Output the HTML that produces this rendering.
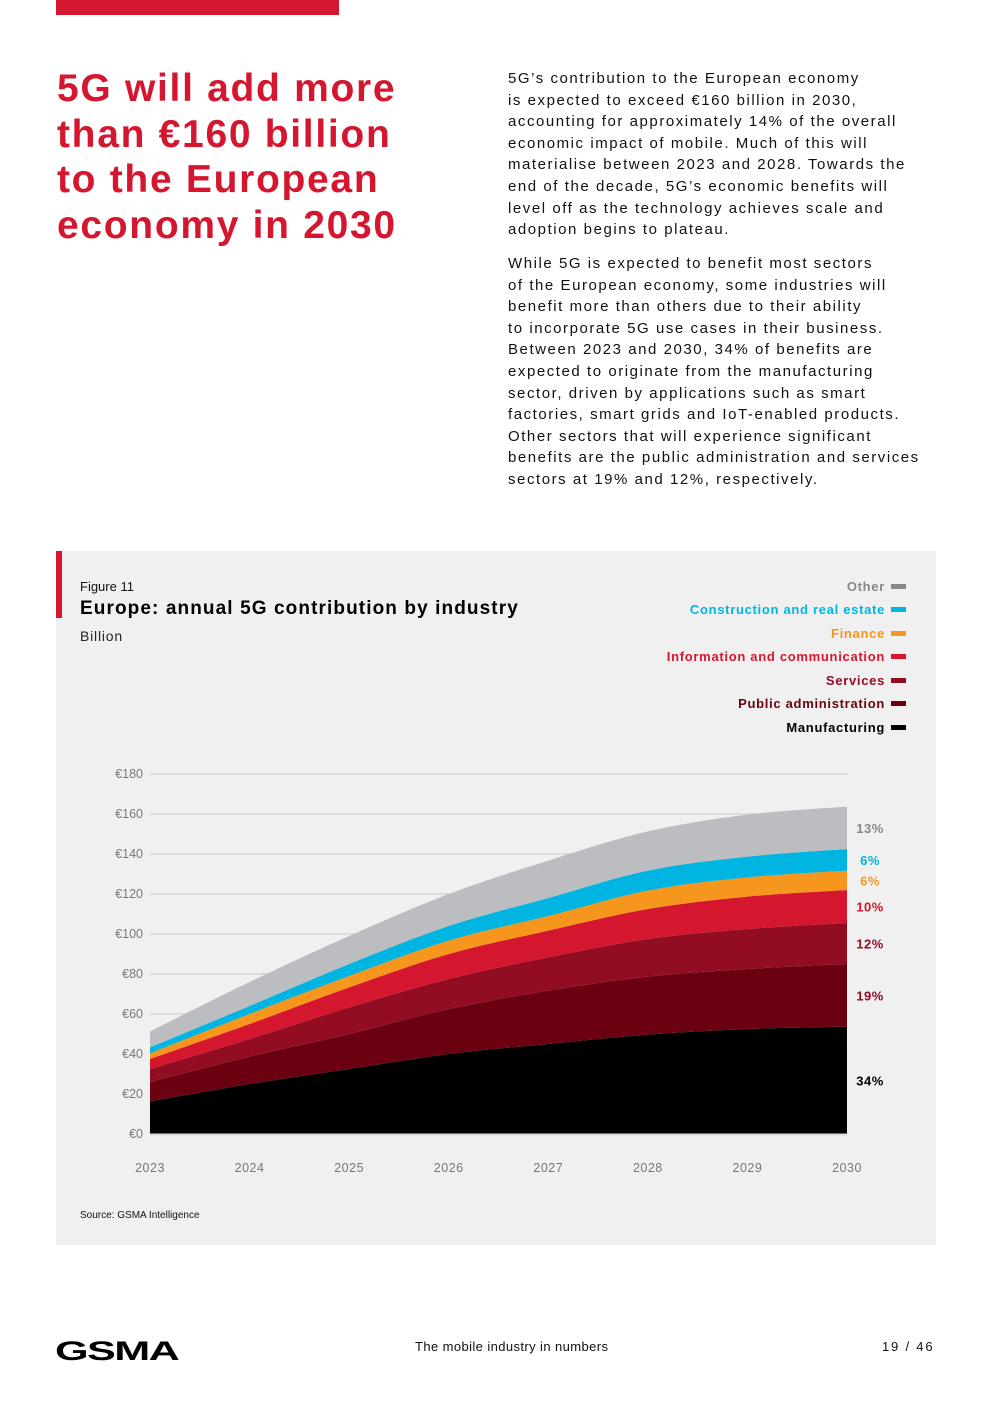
<!DOCTYPE html>
<html><head><meta charset="utf-8"><style>
body{margin:0;width:992px;height:1403px;background:#fff;position:relative;font-family:"Liberation Sans",sans-serif;overflow:hidden}
.abs{position:absolute}
#title{left:57px;top:66px;color:#d5162f;font-weight:bold;font-size:39px;line-height:45.5px;letter-spacing:1.7px;margin:0}
.body{left:508px;width:440px;font-size:15px;line-height:21.6px;letter-spacing:1.55px;color:#111;margin:0}
.leg{position:absolute;right:30px;font-size:13px;font-weight:bold;letter-spacing:0.7px;white-space:nowrap}
.leg span{display:inline-block;width:15px;height:5px;margin-left:6px;vertical-align:2px}
</style></head><body>
<div class="abs" style="left:56px;top:0;width:283px;height:15px;background:#d5162f"></div>
<h1 id="title" class="abs">5G will add more<br>than €160 billion<br>to the European<br>economy in 2030</h1>
<p class="abs body" style="top:68px">5G’s contribution to the European economy<br>is expected to exceed €160 billion in 2030,<br>accounting for approximately 14% of the overall<br>economic impact of mobile. Much of this will<br>materialise between 2023 and 2028. Towards the<br>end of the decade, 5G’s economic benefits will<br>level off as the technology achieves scale and<br>adoption begins to plateau.</p>
<p class="abs body" style="top:253px">While 5G is expected to benefit most sectors<br>of the European economy, some industries will<br>benefit more than others due to their ability<br>to incorporate 5G use cases in their business.<br>Between 2023 and 2030, 34% of benefits are<br>expected to originate from the manufacturing<br>sector, driven by applications such as smart<br>factories, smart grids and IoT-enabled products.<br>Other sectors that will experience significant<br>benefits are the public administration and services<br>sectors at 19% and 12%, respectively.</p>

<div class="abs" style="left:56px;top:551px;width:880px;height:694px;background:#f0f0f0">
<div class="abs" style="left:0;top:0;width:6px;height:67px;background:#d5162f"></div>
<div class="abs" style="left:24px;top:28px;font-size:13px;color:#111">Figure 11</div>
<div class="abs" style="left:24px;top:47px;font-size:19px;font-weight:bold;color:#000;letter-spacing:1.1px">Europe: annual 5G contribution by industry</div>
<div class="abs" style="left:24px;top:77px;font-size:14px;color:#222;letter-spacing:0.8px">Billion</div>
<div class="leg" style="top:28px;color:#888">Other<span style="background:#888"></span></div>
<div class="leg" style="top:51px;color:#00b5e2">Construction and real estate<span style="background:#00b5e2"></span></div>
<div class="leg" style="top:75px;color:#f7961d">Finance<span style="background:#f7961d"></span></div>
<div class="leg" style="top:98px;color:#d5162f">Information and communication<span style="background:#d5162f"></span></div>
<div class="leg" style="top:122px;color:#920c22">Services<span style="background:#920c22"></span></div>
<div class="leg" style="top:145px;color:#6b0011">Public administration<span style="background:#6b0011"></span></div>
<div class="leg" style="top:169px;color:#000">Manufacturing<span style="background:#000"></span></div>
<div class="abs" style="left:24px;top:659px;font-size:10px;color:#111">Source: GSMA Intelligence</div>
</div>
<svg class="abs" id="chart" style="left:0;top:0" width="992" height="1403"></svg>

<div class="abs" style="left:55px;top:1336px;font-size:27px;font-weight:900;letter-spacing:-1px;transform:scaleX(1.6);transform-origin:left;color:#000">GSMA</div>
<div class="abs" style="left:415px;top:1339px;font-size:13px;color:#111;letter-spacing:0.4px">The mobile industry in numbers</div>
<div class="abs" style="left:882px;top:1339px;font-size:13px;color:#111;letter-spacing:1.8px">19 / 46</div>

<script>
const years=[2023,2024,2025,2026,2027,2028,2029,2030];
const yTicks=[0,20,40,60,80,100,120,140,160,180];
const seriesNames=["Manufacturing","Public administration","Services","Information and communication","Finance","Construction and real estate","Other"];
const manufacturing=[16.3,25,32.5,40,45,49.7,52.5,53.7];
const publicAdmin=[9.7,13.7,17.5,22.5,26.7,29,30,31.3];
const services=[6.5,8.8,13.3,15,16.6,18.8,20,20.5];
const infoComm=[5,7.5,10,12.5,13.4,15,16.2,16.5];
const finance=[2.8,5,5.7,6.7,7.3,9.2,9.6,9.7];
const construction=[3,4,6,7.3,9,10,10.4,10.8];
const other=[8,12,14,16,18.7,19.6,21,21.2];
const shareLabels=["34%","19%","12%","10%","6%","6%","13%"];
const colors=["#000","#6b0011","#920c22","#d5162f","#f7961d","#00b5e2","#bcbdc0"];
const labelColors=["#000","#920c22","#920c22","#d5162f","#f7961d","#00b5e2","#888"];
const series=[manufacturing,publicAdmin,services,infoComm,finance,construction,other];
const svg=document.getElementById('chart');const NS="http://www.w3.org/2000/svg";
const X=y=>150+(y-2023)*(847-150)/7;
const Y=v=>1134-v*2;
function mk(t,a){const e=document.createElementNS(NS,t);for(const k in a)e.setAttribute(k,a[k]);svg.appendChild(e);return e;}
yTicks.forEach(t=>{
 const l=mk('line',{x1:150,x2:847,y1:Y(t),y2:Y(t),stroke:'#c8c8c8','stroke-width':1});
 
 
 const tx=mk('text',{x:143,y:Y(t)+4,'text-anchor':'end','font-size':12.5,fill:'#777','font-family':'Liberation Sans'});tx.textContent='€'+t;
 
 
});
years.forEach(y=>{const tx=mk('text',{x:X(y),y:1172,'text-anchor':'middle','font-size':12.5,'letter-spacing':0.5,fill:'#777','font-family':'Liberation Sans'});tx.textContent=y;
 
 });
function curve(pts){let d='';for(let i=0;i<pts.length-1;i++){const p0=pts[Math.max(0,i-1)],p1=pts[i],p2=pts[i+1],p3=pts[Math.min(pts.length-1,i+2)];
 const c1=[p1[0]+(p2[0]-p0[0])/6,p1[1]+(p2[1]-p0[1])/6],c2=[p2[0]-(p3[0]-p1[0])/6,p2[1]-(p3[1]-p1[1])/6];
 d+=` C${c1[0]},${c1[1]} ${c2[0]},${c2[1]} ${p2[0]},${p2[1]}`;}return d;}
let base=years.map(()=>0);
series.forEach((s,i)=>{
 const top=base.map((b,j)=>b+s[j]);
 const tp=years.map((y,j)=>[X(y),Y(top[j])]);const bp=years.map((y,j)=>[X(y),Y(base[j])]).reverse();
 const d=`M${tp[0][0]},${tp[0][1]}`+curve(tp)+` L${bp[0][0]},${bp[0][1]}`+curve(bp)+'Z';
 const p=mk('path',{d:d,fill:colors[i]});
 
 
 const n=top.length-1;
 const tx=mk('text',{x:870,y:Y((top[n]+base[n])/2)+5,'text-anchor':'middle','font-size':13,'font-weight':'bold','letter-spacing':0.5,fill:labelColors[i],'font-family':'Liberation Sans'});
 tx.textContent=shareLabels[i];
 
 
 base=top;
});
const ax=mk('line',{x1:150,x2:847,y1:1134.5,y2:1134.5,stroke:'#ddd','stroke-width':2});


</script>
</body></html>
